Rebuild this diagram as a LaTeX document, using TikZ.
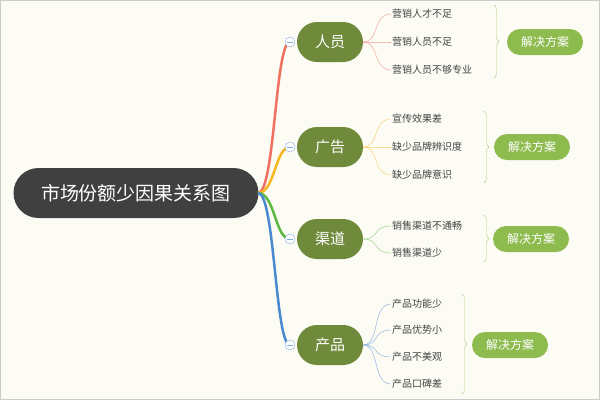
\documentclass[tikz,border=0pt]{standalone}
\usepackage{fontspec}
\setmainfont{Noto Sans CJK SC}
\usetikzlibrary{decorations.pathreplacing}
\definecolor{bg}{HTML}{FCFBF4}
\definecolor{rootc}{HTML}{404040}
\definecolor{catc}{HTML}{6F8A3A}
\definecolor{solc}{HTML}{8DBB4E}
\definecolor{bracec}{HTML}{B5CC8A}
\definecolor{lred}{HTML}{F07060}
\definecolor{lorange}{HTML}{F5B820}
\definecolor{lgreen}{HTML}{5CB840}
\definecolor{lblue}{HTML}{4A88D0}
\definecolor{leafc}{HTML}{444444}
\tikzset{
 rootbox/.style={fill=rootc,rounded corners=25pt,minimum width=245pt,minimum height=50pt,text=white,font=\fontsize{19}{19}\selectfont},
 catbox/.style={fill=catc,rounded corners=20pt,minimum width=66pt,minimum height=40pt,text=white,font=\fontsize{15}{15}\selectfont},
 solbox/.style={fill=solc,rounded corners=13pt,minimum width=76pt,minimum height=26pt,text=white,font=\fontsize{12}{12}\selectfont},
 leaf/.style={anchor=west,inner sep=1pt,text=leafc,font=\fontsize{10}{10}\selectfont},
 knob/.style={circle,draw=lblue!70,fill=white,inner sep=0pt,minimum size=10pt,path picture={\draw[lblue!70] ([xshift=-3pt]path picture bounding box.center)--([xshift=3pt]path picture bounding box.center);}},
 brc/.style={draw=bracec,decorate,decoration={brace,amplitude=5pt}},
}
\begin{document}
\begin{tikzpicture}[x=1pt,y=-1pt]
\fill[bg] (0,0) rectangle (600,400);
\draw[gray!40] (0.5,0.5) rectangle (599.5,399.5);
\node[rootbox] (root) at (136,193) {市场份额少因果关系图};
\coordinate (rr) at (258,193);
% categories
\foreach \n/\t/\y/\c in {a/人员/42/lred,b/广告/147/lorange,c/渠道/239/lgreen,d/产品/345/lblue}{
 \node[catbox] (\n) at (330,\y) {\t};
 \draw[\c,line width=2.5pt] (rr) .. controls (275,193) and (275,\y) .. (290,\y);
 \node[knob] (k\n) at (290,\y) {};
}
% leaves
\foreach \n/\t/\y/\c in {a1/营销人才不足/14/lred,a2/营销人员不足/42/lred,a3/营销人员不够专业/70/lred}{
 \node[leaf] (\n) at (391,\y) {\t};
 \draw[\c!70] (a.east) .. controls (380,42) and (372,\y) .. (\n.west);}
\foreach \n/\t/\y/\c in {b1/宣传效果差/119/lorange,b2/缺少品牌辨识度/147/lorange,b3/缺少品牌意识/175/lorange}{
 \node[leaf] (\n) at (391,\y) {\t};
 \draw[\c!70] (b.east) .. controls (380,147) and (372,\y) .. (\n.west);}
\foreach \n/\t/\y/\c in {c1/销售渠道不通畅/226/lgreen,c2/销售渠道少/253/lgreen}{
 \node[leaf] (\n) at (391,\y) {\t};
 \draw[\c!70] (c.east) .. controls (380,239) and (372,\y) .. (\n.west);}
\foreach \n/\t/\y/\c in {d1/产品功能少/304/lblue,d2/产品优势小/330/lblue,d3/产品不美观/357/lblue,d4/产品口碑差/384/lblue}{
 \node[leaf] (\n) at (391,\y) {\t};
 \draw[\c!70] (d.east) .. controls (380,345) and (372,\y) .. (\n.west);}
% braces and solutions
\coordinate (ba1) at (494,5); \coordinate (ba2) at (494,78);
\draw[brc] (ba1) -- (ba2);
\node[solbox] (sa) at (545,42) {解决方案};
\coordinate (bb1) at (484,111); \coordinate (bb2) at (484,183);
\draw[brc] (bb1) -- (bb2);
\node[solbox] (sb) at (532,147) {解决方案};
\coordinate (bc1) at (484,215); \coordinate (bc2) at (484,262);
\draw[brc] (bc1) -- (bc2);
\node[solbox] (sc) at (531,239) {解决方案};
\coordinate (bd1) at (462,294); \coordinate (bd2) at (462,394);
\draw[brc] (bd1) -- (bd2);
\node[solbox] (sd) at (510,345) {解决方案};
\end{tikzpicture}
\end{document}
